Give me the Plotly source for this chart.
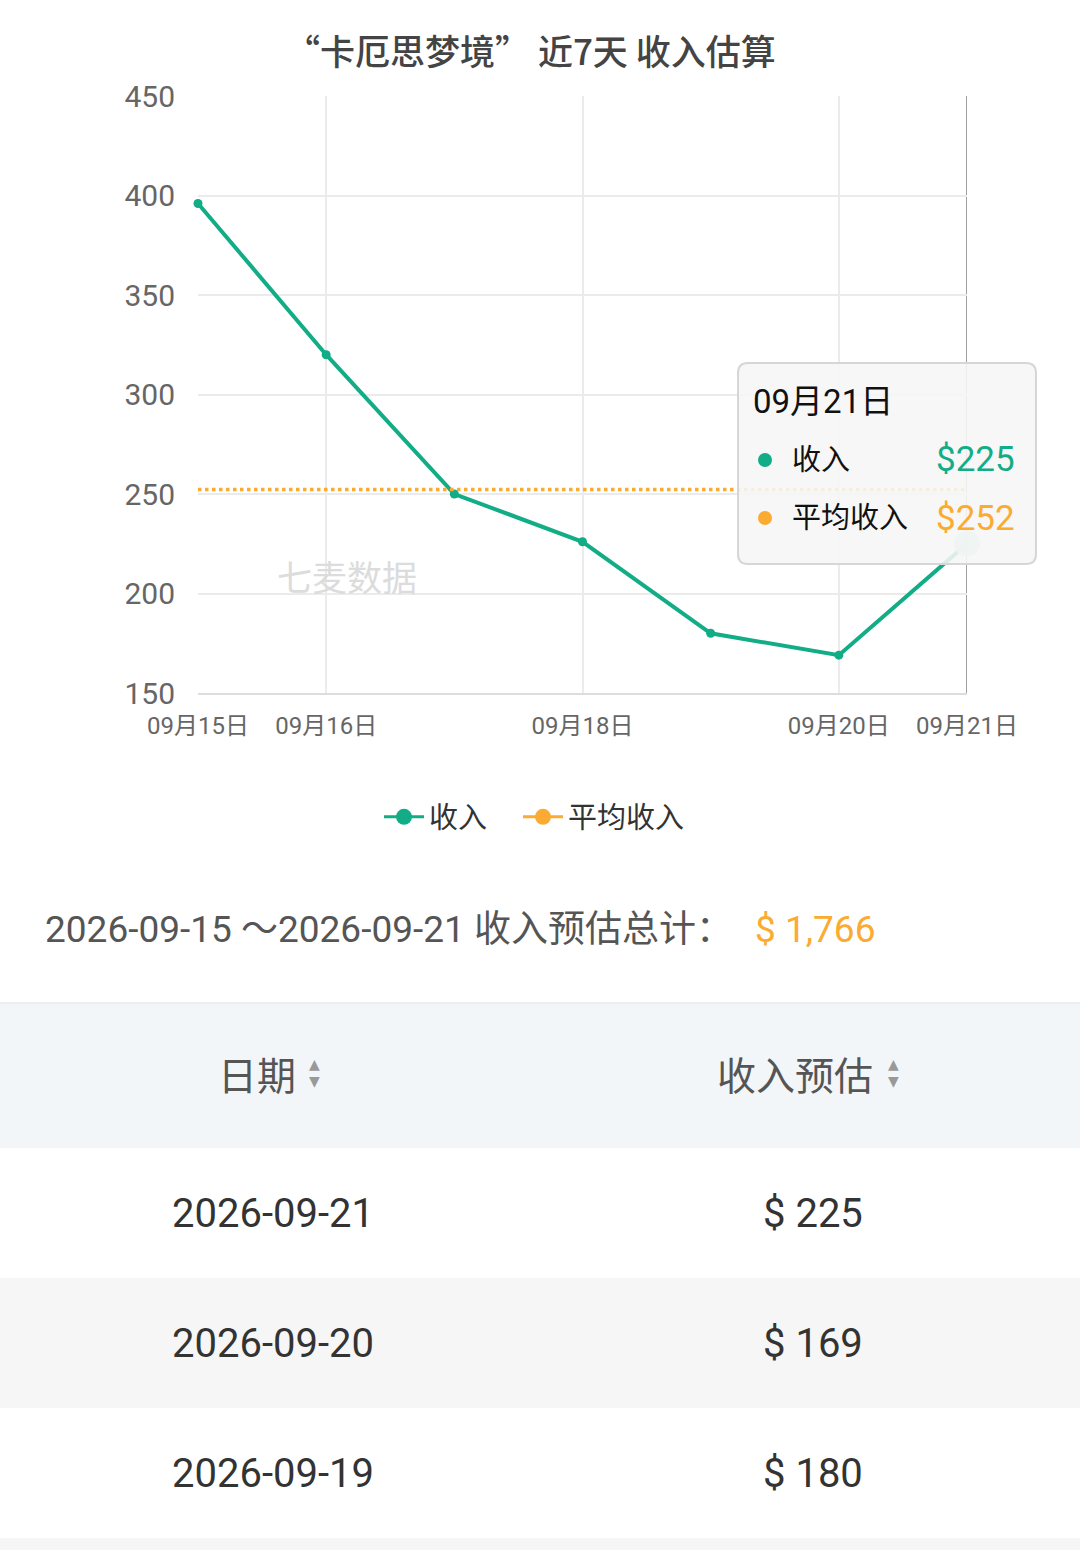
import plotly.graph_objects as go

# ---------------- data ----------------
dates = ["2026-09-15", "2026-09-16", "2026-09-17", "2026-09-18",
         "2026-09-19", "2026-09-20", "2026-09-21"]
revenue = [396, 320, 250, 226, 180, 169, 225]
tick_dates = ["2026-09-15", "2026-09-16", "2026-09-18", "2026-09-20", "2026-09-21"]
y_ticks = [150, 200, 250, 300, 350, 400, 450]
table_dates = ["2026-09-21", "2026-09-20", "2026-09-19"]
table_values = [225, 169, 180]
series_names = ["收入", "平均收入"]
title_text = "“卡厄思梦境” 近7天 收入估算"
watermark = "七麦数据"

W, H = 1080, 1550
GREEN = "#12ad86"
ORANGE = "#fbab31"
FONT = "Roboto, Noto Sans CJK SC"
CJK = "Noto Sans CJK SC"


def label(d):
    return f"{d[5:7]}月{d[8:10]}日"


avg = sum(revenue) / len(revenue)
total = sum(revenue)


def px(x):
    return x / W


def py(y):
    return 1 - y / H


def note(text, x, y, size, color, xanchor="center", yanchor="middle", family=FONT, weight=None):
    f = dict(family=family, size=size, color=color)
    if weight:
        f["weight"] = weight
    return dict(text=text, x=px(x), y=py(y), xref="paper", yref="paper",
                xanchor=xanchor, yanchor=yanchor, showarrow=False, font=f)


fig = go.Figure()

# main series
fig.add_trace(go.Scatter(
    x=dates, y=revenue, mode="lines+markers", name=series_names[0],
    line=dict(color=GREEN, width=4), marker=dict(color=GREEN, size=9),
    cliponaxis=False, showlegend=False))
# average dotted line
fig.add_trace(go.Scatter(
    x=dates, y=[avg] * len(dates), mode="lines", name=series_names[1],
    line=dict(color=ORANGE, width=3.5, dash="dot"), showlegend=False,
    cliponaxis=False))
# emphasised last point
fig.add_trace(go.Scatter(
    x=[dates[-1]], y=[revenue[-1]], mode="markers", showlegend=False,
    marker=dict(color="rgba(190,232,218,0.9)", size=26), cliponaxis=False))
# legend-only entries (one legend each, for exact placement)
fig.add_trace(go.Scatter(
    x=[None], y=[None], mode="lines+markers", name=series_names[0], legend="legend",
    line=dict(color=GREEN, width=3), marker=dict(color=GREEN, size=19)))
fig.add_trace(go.Scatter(
    x=[None], y=[None], mode="lines+markers", name=series_names[1], legend="legend2",
    line=dict(color=ORANGE, width=3), marker=dict(color=ORANGE, size=19)))

shapes = []
annotations = []

# axis pointer line at last date
shapes.append(dict(type="line", xref="x", yref="y", x0=dates[-1], x1=dates[-1],
                   y0=y_ticks[0], y1=y_ticks[-1],
                   line=dict(color="#a0a0a0", width=2), layer="below"))

# tooltip box (rounded)
bx0, by0, bx1, by1, r = 738, 363, 1036, 564, 10


def rrect(x0, y0, x1, y1, r):
    X0, X1 = px(x0), px(x1)
    Y0, Y1 = py(y0), py(y1)
    rx, ry = r / W, r / H
    return (f"M {X0+rx} {Y0} L {X1-rx} {Y0} Q {X1} {Y0} {X1} {Y0-ry} "
            f"L {X1} {Y1+ry} Q {X1} {Y1} {X1-rx} {Y1} L {X0+rx} {Y1} "
            f"Q {X0} {Y1} {X0} {Y1+ry} L {X0} {Y0-ry} Q {X0} {Y0} {X0+rx} {Y0} Z")


shapes.append(dict(type="path", xref="paper", yref="paper",
                   path=rrect(bx0, by0, bx1, by1, r),
                   fillcolor="rgba(246,246,246,0.88)",
                   line=dict(color="#d6d6d6", width=2), layer="above"))

annotations.append(note(label(dates[-1]), 751, 402, 33, "#111", xanchor="left"))
for i, (nm, col, val) in enumerate([(series_names[0], GREEN, revenue[-1]),
                                    (series_names[1], ORANGE, round(avg))]):
    yy = 460 + i * 58
    shapes.append(dict(type="circle", xref="paper", yref="paper",
                       x0=px(758), x1=px(772), y0=py(yy - 7), y1=py(yy + 7),
                       fillcolor=col, line=dict(width=0), layer="above"))
    annotations.append(note(nm, 790, yy, 29, "#111", xanchor="left"))
    annotations.append(note(f"${val}", 1017, yy, 35, col, xanchor="right"))

# watermark
annotations.append(note(watermark, 347, 575, 35, "#dcdcdc", family=CJK))

# title
annotations.append(note(title_text, 530, 50, 35, "#444", family=CJK, weight=500))

# summary line
annotations.append(note(f"{dates[0]} ～{dates[-1]} 收入预估总计：", 43, 929, 37, "#555", xanchor="left"))
annotations.append(note(f"$ {total:,}", 753, 929, 37, ORANGE, xanchor="left"))

# table header
shapes.append(dict(type="rect", xref="paper", yref="paper", x0=0, x1=1,
                   y0=py(1148), y1=py(1003), fillcolor="#f3f6f9",
                   line=dict(width=0), layer="below"))
shapes.append(dict(type="line", xref="paper", yref="paper", x0=0, x1=1,
                   y0=py(1003), y1=py(1003), line=dict(color="#eceff2", width=2)))
headers = [("日期", 257, 314), ("收入预估", 795, 894)]
for txt, cx, ax in headers:
    annotations.append(note(txt, cx, 1073, 39, "#555", family=CJK))
    annotations.append(note("▲", ax, 1064, 14, "#999", family="DejaVu Sans"))
    annotations.append(note("▼", ax, 1081, 14, "#999", family="DejaVu Sans"))

# table rows
row_h = 130
top = 1148
for i, (d, v) in enumerate(zip(table_dates, table_values)):
    y0 = top + i * row_h
    fill = "#ffffff" if i % 2 == 0 else "#f6f6f6"
    shapes.append(dict(type="rect", xref="paper", yref="paper", x0=0, x1=1,
                       y0=py(y0 + row_h), y1=py(y0), fillcolor=fill,
                       line=dict(width=0), layer="below"))
    annotations.append(note(d, 273, y0 + row_h / 2, 40, "#333"))
    annotations.append(note(f"$ {v}", 813, y0 + row_h / 2, 40, "#333"))
# partial next row
shapes.append(dict(type="rect", xref="paper", yref="paper", x0=0, x1=1,
                   y0=0, y1=py(top + len(table_dates) * row_h), fillcolor="#f6f6f6",
                   line=dict(width=0), layer="below"))

legend_common = dict(orientation="h", xanchor="left", y=py(817), yanchor="middle",
                     itemwidth=40, font=dict(family=CJK, size=29, color="#333"),
                     bgcolor="rgba(0,0,0,0)")

fig.update_layout(
    width=W, height=H,
    margin=dict(l=0, r=0, t=0, b=0, pad=0, autoexpand=False),
    paper_bgcolor="white", plot_bgcolor="white",
    font=dict(family=FONT, color="#666"),
    shapes=shapes, annotations=annotations,
    showlegend=True,
    legend=dict(x=px(379), **legend_common),
    legend2=dict(x=px(518), **legend_common),
    xaxis=dict(domain=[px(198), px(967)], type="category", range=[0, len(dates) - 1],
               tickvals=tick_dates, ticktext=[label(d) for d in tick_dates],
               showgrid=True, gridcolor="#ebebeb", gridwidth=2,
               showline=True, linecolor="#dddddd", linewidth=2,
               ticks="", ticklabelstandoff=10, automargin=False,
               tickfont=dict(family=FONT, size=24, color="#666"),
               zeroline=False, fixedrange=True),
    yaxis=dict(domain=[py(693), py(96)], range=[y_ticks[0], y_ticks[-1]],
               tickvals=y_ticks, showgrid=True, gridcolor="#ebebeb", gridwidth=2,
               zeroline=False, ticks="", ticklabelstandoff=22, automargin=False,
               tickfont=dict(family=FONT, size=30, color="#666"), fixedrange=True),
)

fig.write_html("out.html", config={"displayModeBar": False},
               post_script="document.body.style.margin='0';document.body.style.overflow='hidden';")
